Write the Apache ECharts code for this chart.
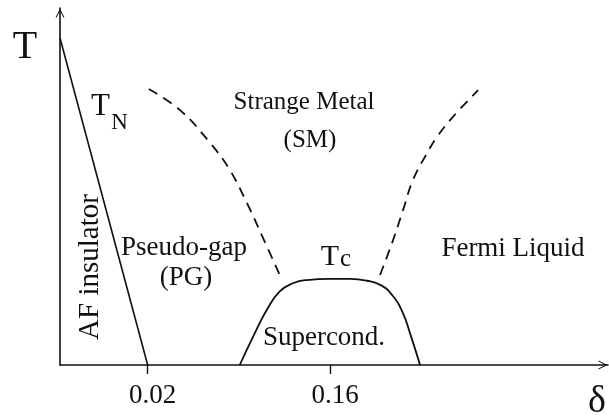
<!DOCTYPE html>
<html>
<head>
<meta charset="utf-8">
<script src="https://cdn.jsdelivr.net/npm/echarts@6/dist/echarts.min.js"></script>
<style>
  html, body { margin: 0; padding: 0; background: #fff; }
  #chart { width: 609px; height: 417px; }
</style>
</head>
<body>
<div id="chart"></div>
<script>
// Schematic cuprate phase diagram: temperature T against doping δ.
// Doping is on a schematic (non-linear) scale, so positions are in
// arbitrary axis units and the two doping ticks carry the real values.

const tickPositions = [16.0, 49.3];
const tickLabels = ['0.02', '0.16'];

// Néel line T_N: antiferromagnetic insulator boundary
const neelLine = [[0, 91.6], [16.0, 0]];

// Superconducting dome T_c
const scDome = [
  [32.8, 0], [35.2, 7.8], [37.8, 15.6], [40.1, 20.6], [42.5, 22.9],
  [45.0, 23.8], [49.3, 24.1], [52.9, 24.1], [56.0, 23.6], [58.6, 22.3],
  [60.6, 19.6], [62.5, 14.8], [64.1, 7.8], [65.7, 0]
];

// Crossover from the pseudo-gap into the strange metal
const pseudoGapCrossover = [
  [16.2, 77.3], [21.9, 71.4], [27.4, 62.2], [31.0, 54.6],
  [34.1, 45.4], [36.9, 36.1], [40.1, 25.2]
];

// Crossover from the strange metal into the Fermi liquid
const fermiLiquidCrossover = [
  [58.4, 25.2], [60.6, 34.2], [62.6, 43.4], [64.4, 51.8],
  [67.0, 59.4], [68.8, 63.9], [71.7, 69.5], [76.3, 77.0]
];

const SERIF = '"Liberation Serif", "DejaVu Serif", serif';
const INK = '#111';

// open arrow head for the axis ends
const openArrow = 'path://M0,10 L5,0 L10,10 L8.8,10 L5,2.4 L1.2,10 Z';
const arrowSize = [9, 10];

function label(text, cx, baseline, size, extra) {
  return Object.assign({
    type: 'text',
    silent: true,
    style: {
      text: text,
      x: cx,
      y: baseline - 0.32 * size,
      font: size + 'px ' + SERIF,
      fill: INK,
      align: 'center',
      verticalAlign: 'middle'
    }
  }, extra || {});
}

const chart = echarts.init(document.getElementById('chart'), null, { renderer: 'canvas' });

chart.setOption({
  animation: false,
  backgroundColor: '#fff',
  grid: { left: 60, right: 1, top: 8, bottom: 52 },
  xAxis: {
    type: 'value',
    min: 0,
    max: 100,
    splitLine: { show: false },
    axisLine: {
      show: true,
      onZero: false,
      symbol: ['none', openArrow],
      symbolSize: arrowSize,
      symbolOffset: [0, -arrowSize[1] / 2],
      lineStyle: { color: INK, width: 1.6 }
    },
    axisTick: {
      show: true,
      customValues: tickPositions,
      length: 9,
      lineStyle: { color: INK, width: 1.4 }
    },
    axisLabel: {
      show: true,
      customValues: tickPositions,
      formatter: function (v) {
        const i = tickPositions.indexOf(v);
        return i >= 0 ? tickLabels[i] : '';
      },
      margin: 17,
      padding: [0, 0, 0, 10],
      color: INK,
      fontFamily: SERIF,
      fontSize: 27
    }
  },
  yAxis: {
    type: 'value',
    min: 0,
    max: 100,
    splitLine: { show: false },
    axisTick: { show: false },
    axisLabel: { show: false },
    axisLine: {
      show: true,
      onZero: false,
      symbol: ['none', openArrow],
      symbolSize: arrowSize,
      symbolOffset: [0, -arrowSize[1] / 2],
      lineStyle: { color: INK, width: 1.6 }
    }
  },
  series: [
    {
      name: 'T_N',
      type: 'line',
      data: neelLine,
      showSymbol: false,
      lineStyle: { color: INK, width: 1.6 }
    },
    {
      name: 'T_c',
      type: 'line',
      data: scDome,
      smooth: 0.5,
      showSymbol: false,
      lineStyle: { color: INK, width: 1.8 }
    },
    {
      name: 'PG crossover',
      type: 'line',
      data: pseudoGapCrossover,
      smooth: 0.4,
      showSymbol: false,
      lineStyle: { color: INK, width: 1.8, type: [10, 7] }
    },
    {
      name: 'FL crossover',
      type: 'line',
      data: fermiLiquidCrossover,
      smooth: 0.4,
      showSymbol: false,
      lineStyle: { color: INK, width: 1.8, type: [10, 7] }
    }
  ],
  graphic: [
    label('T', 25, 60, 40),
    label('δ', 597, 414, 38),
    label('T', 100.5, 117, 31),
    label('N', 119.5, 130, 23),
    label('T', 330, 267, 30),
    label('c', 345.5, 267, 25),
    label('Strange Metal', 304, 110, 25),
    label('(SM)', 310, 148, 25),
    label('Pseudo-gap', 184, 257, 27),
    label('(PG)', 186, 287, 27),
    label('Supercond.', 324, 347, 27),
    label('Fermi Liquid', 513, 258, 27),
    {
      type: 'text',
      silent: true,
      x: 100 - 0.32 * 29,
      y: 267,
      rotation: Math.PI / 2,
      style: {
        text: 'AF insulator',
        x: 0,
        y: 0,
        font: '29px ' + SERIF,
        fill: INK,
        align: 'center',
        verticalAlign: 'middle'
      }
    }
  ]
});
</script>
</body>
</html>
